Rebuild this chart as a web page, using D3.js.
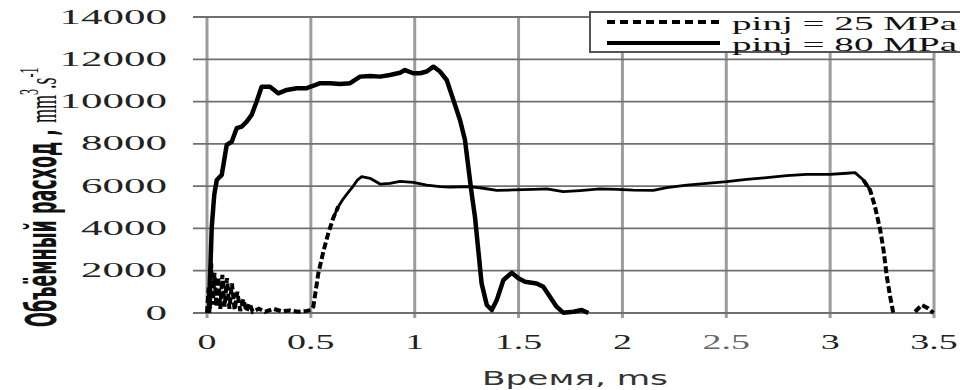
<!DOCTYPE html>
<html>
<head>
<meta charset="utf-8">
<script src="https://cdn.jsdelivr.net/npm/d3@7"></script>
<style>
  body { margin: 0; background: #fff; }
  svg { display: block; }
</style>
</head>
<body>
<div id="chart"></div>
<script>
// data (time in ms, flow in mm3/s)
var xTicks = [0, 0.5, 1, 1.5, 2, 2.5, 3, 3.5];
var yTicks = [0, 2000, 4000, 6000, 8000, 10000, 12000, 14000];
var seriesNames = ["pinj = 25 MPa", "pinj = 80 MPa"];

var time80 = [0.010, 0.014, 0.023, 0.035, 0.047, 0.071, 0.095, 0.119, 0.143, 0.167, 0.191, 0.215, 0.239, 0.263,
  0.303, 0.343, 0.384, 0.432, 0.480, 0.496, 0.520, 0.544, 0.592, 0.640, 0.689, 0.737, 0.785, 0.833, 0.881,
  0.929, 0.953, 0.993, 1.026, 1.058, 1.090, 1.122, 1.154, 1.186, 1.218, 1.242, 1.258, 1.274, 1.290, 1.306,
  1.322, 1.347, 1.371, 1.395, 1.427, 1.467, 1.499, 1.531, 1.587, 1.619, 1.651, 1.683, 1.715, 1.764, 1.804, 1.836];
var flow80 = [0, 1500, 4080, 5600, 6290, 6530, 7950, 8100, 8740, 8820, 9050, 9370, 10000, 10700,
  10700, 10390, 10550, 10630, 10630, 10700, 10780, 10870, 10870, 10830, 10870, 11180, 11210, 11180, 11260,
  11360, 11490, 11340, 11340, 11420, 11650, 11420, 11020, 10080, 9130, 8180, 6920, 5660, 4550, 2980,
  1400, 380, 140, 610, 1560, 1900, 1640, 1480, 1400, 1240, 770, 300, 15, 60, 140, 0];

var time25 = [0.000, 0.008, 0.014, 0.020, 0.028, 0.036, 0.045, 0.054, 0.064, 0.074, 0.085, 0.096, 0.108, 0.120,
  0.133, 0.146, 0.160, 0.175, 0.190, 0.205, 0.220, 0.250, 0.280, 0.320, 0.360, 0.400, 0.440, 0.480, 0.500,
  0.512, 0.536, 0.560, 0.584, 0.608, 0.632, 0.656, 0.680, 0.704, 0.725, 0.745, 0.785, 0.833, 0.881, 0.929,
  0.993, 1.058, 1.122, 1.170, 1.266, 1.330, 1.395, 1.475, 1.571, 1.636, 1.715, 1.796, 1.892, 1.973, 2.053,
  2.149, 2.213, 2.310, 2.406, 2.502, 2.598, 2.695, 2.791, 2.887, 2.999, 3.080, 3.120, 3.160, 3.192, 3.216,
  3.241, 3.257, 3.273, 3.289, 3.304, 3.350, 3.409, 3.441, 3.473, 3.497];
var flow25 = [0, 1200, 200, 2350, 400, 1900, 300, 1700, 200, 1800, 300, 1650, 200, 1400,
  150, 1000, 100, 650, 80, 450, 60, 200, 60, 200, 80, 120, 60, 100, 140,
  300, 1880, 2900, 3770, 4500, 5030, 5400, 5700, 6000, 6300, 6450, 6370, 6100, 6130, 6230,
  6180, 6050, 5980, 5960, 5980, 5900, 5800, 5820, 5850, 5870, 5740, 5790, 5870, 5850, 5810,
  5800, 5930, 6050, 6130, 6210, 6320, 6400, 6500, 6560, 6560, 6610, 6640, 6290, 5820, 5030,
  3930, 2980, 1720, 770, 0, null, 60, 380, 220, 0];

var W = 960, H = 390;
var svg = d3.select("#chart").append("svg")
  .attr("width", W)
  .attr("height", H);

var xScale = d3.scaleLinear().domain([0, 3.5]).range([207, 934]);
var yScale = d3.scaleLinear().domain([0, 14000]).range([313, 17]);
var gridLeft = 193;

// vertical grid (light, wide) with short ticks under the axis
svg.append("g")
  .selectAll("line")
  .data(xTicks)
  .join("line")
  .attr("x1", d => xScale(d))
  .attr("x2", d => xScale(d))
  .attr("y1", yScale(14000))
  .attr("y2", yScale(0) + 5)
  .attr("stroke", "#9c9c9c")
  .attr("stroke-width", 3);

// horizontal grid (darker, thin), runs a bit left of x=0
svg.append("g")
  .selectAll("line")
  .data(yTicks)
  .join("line")
  .attr("x1", gridLeft)
  .attr("x2", xScale(3.5))
  .attr("y1", d => yScale(d))
  .attr("y2", d => yScale(d))
  .attr("stroke", "#707070")
  .attr("stroke-width", 1.8);

// tick labels, stretched like the source image
svg.append("g").selectAll("text")
  .data(yTicks)
  .join("text")
  .attr("transform", d => "translate(167," + (yScale(d) + 6.5) + ") scale(2.15,1)")
  .attr("text-anchor", "end")
  .attr("font-family", "Liberation Serif, serif")
  .attr("font-size", 20)
  .attr("fill", "#222")
  .text(d => d);

svg.append("g").selectAll("text")
  .data(xTicks)
  .join("text")
  .attr("transform", d => "translate(" + xScale(d) + ",349) scale(1.9,1)")
  .attr("text-anchor", "middle")
  .attr("font-family", "Liberation Serif, serif")
  .attr("font-size", 20)
  .attr("fill", d => d === 2.5 ? "#666" : "#222")
  .text(d => d);

svg.append("text")
  .attr("x", 575)
  .attr("y", 385)
  .attr("text-anchor", "middle")
  .attr("font-family", "DejaVu Sans, sans-serif")
  .attr("font-size", 19)
  .attr("textLength", 186)
  .attr("lengthAdjust", "spacingAndGlyphs")
  .attr("fill", "#333")
  .text("Время, ms");

var yTitle = svg.append("text")
  .attr("transform", "translate(56,327) scale(2.2,1) rotate(-90)")
  .attr("text-anchor", "start")
  .attr("fill", "#111");
yTitle.append("tspan")
  .attr("font-family", "Liberation Sans Narrow, DejaVu Sans Condensed, sans-serif")
  .attr("font-weight", "bold")
  .attr("font-size", 19.5)
  .text("Объёмный расход , ");
yTitle.append("tspan")
  .attr("font-family", "Liberation Serif, serif")
  .attr("font-size", 18)
  .text("mm");
yTitle.append("tspan")
  .attr("font-family", "Liberation Serif, serif")
  .attr("font-size", 12)
  .attr("dy", -8)
  .text("3");
yTitle.append("tspan")
  .attr("font-family", "Liberation Serif, serif")
  .attr("font-size", 18)
  .attr("dy", 8)
  .text(".s");
yTitle.append("tspan")
  .attr("font-family", "Liberation Serif, serif")
  .attr("font-size", 12)
  .attr("dy", -8)
  .text("-1");

// series
var pts80 = time80.map((t, i) => ({ t: t, v: flow80[i] }));
var pts25 = time25.map((t, i) => ({ t: t, v: flow25[i] }));

var lineGen = d3.line()
  .x(d => xScale(d.t))
  .y(d => yScale(d.v));

// 25 MPa: dashed on the steep parts, plateau shows as a thin solid line
svg.append("path")
  .datum(pts25)
  .attr("d", lineGen.defined(d => d.v != null && (d.t <= 0.632 || d.t >= 3.16)))
  .attr("fill", "none")
  .attr("stroke", "#000")
  .attr("stroke-width", 4)
  .attr("stroke-dasharray", "7,3");

svg.append("path")
  .datum(pts25)
  .attr("d", lineGen.defined(d => d.v != null && d.t >= 0.608 && d.t <= 3.192))
  .attr("fill", "none")
  .attr("stroke", "#000")
  .attr("stroke-width", 2.8)
  .attr("stroke-linejoin", "round");

svg.append("path")
  .datum(pts80)
  .attr("d", lineGen.defined(d => d.v != null))
  .attr("fill", "none")
  .attr("stroke", "#000")
  .attr("stroke-width", 4.5)
  .attr("stroke-linejoin", "round");

// legend, cut off at the right edge
var legend = svg.append("g");
legend.append("rect")
  .attr("x", 590)
  .attr("y", 12)
  .attr("width", 400)
  .attr("height", 40)
  .attr("fill", "#fff")
  .attr("stroke", "#555")
  .attr("stroke-width", 2);

var legendY = [22, 43];
legend.selectAll("line")
  .data(seriesNames)
  .join("line")
  .attr("x1", 607)
  .attr("x2", 720)
  .attr("y1", (d, i) => legendY[i])
  .attr("y2", (d, i) => legendY[i])
  .attr("stroke", "#000")
  .attr("stroke-width", 4)
  .attr("stroke-dasharray", (d, i) => i === 0 ? "8,5" : null);

legend.selectAll("text")
  .data(seriesNames)
  .join("text")
  .attr("x", 732)
  .attr("y", (d, i) => legendY[i] + 8)
  .attr("font-family", "Liberation Serif, serif")
  .attr("font-size", 19)
  .attr("textLength", 225)
  .attr("lengthAdjust", "spacingAndGlyphs")
  .attr("fill", "#111")
  .text(d => d);
</script>
</body>
</html>
